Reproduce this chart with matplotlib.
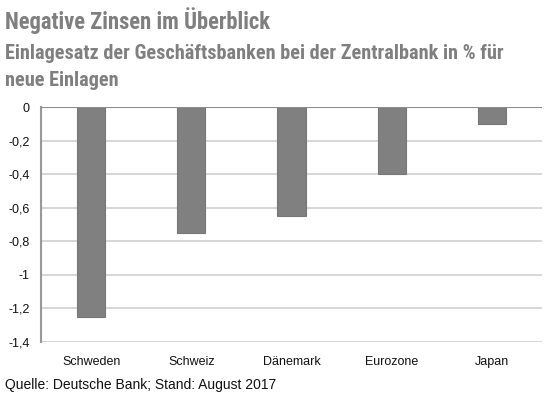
import matplotlib
matplotlib.use("Agg")
import matplotlib.pyplot as plt

laender = ["Schweden", "Schweiz", "Dänemark", "Eurozone", "Japan"]
einlagesatz = [-1.25, -0.75, -0.65, -0.4, -0.1]
y_ticks = [0, -0.2, -0.4, -0.6, -0.8, -1, -1.2, -1.4]
y_labels = ["0", "-0,2", "-0,4", "-0,6", "-0,8", "-1", "-1,2", "-1,4"]

plt.rcParams['font.family'] = ['Liberation Sans', 'DejaVu Sans']

fig = plt.figure(figsize=(5.45, 3.98), dpi=100)
ax = fig.add_axes([41 / 545, 1 - 342 / 398, 501 / 545, 235 / 398])

x = range(len(laender))
ax.bar(x, einlagesatz, width=0.28, color="#808080", edgecolor="#777777", linewidth=0.8, zorder=3)

ax.set_xlim(-0.5, len(laender) - 0.5)
ax.set_ylim(-1.4, 0)
ax.set_yticks(y_ticks)
ax.set_yticklabels(y_labels)
ax.set_xticks(list(x))
ax.set_xticklabels(laender)
ax.tick_params(axis='both', length=0, labelsize=9, colors="#111111")
ax.tick_params(axis='x', pad=10)
ax.tick_params(axis='y', pad=8)

for t in y_ticks[1:]:
	ax.axhline(t, color="#d0d0d0", linewidth=1.2, zorder=1)
ax.axhline(0, color="#8c8c8c", linewidth=1.5, zorder=4)

for s in ["top", "right", "bottom"]:
	ax.spines[s].set_visible(False)
ax.spines["left"].set_color("#999999")
ax.spines["left"].set_linewidth(1.5)

title_font = ['Roboto Condensed', 'Roboto', 'DejaVu Sans']
fig.text(5 / 545, 1 - 29 / 398, "Negative Zinsen im Überblick", family=title_font, va="baseline",
	fontweight="bold", fontstretch="condensed", fontsize=16.3, color="#7f7f7f")
fig.text(5 / 545, 1 - 59 / 398, "Einlagesatz der Geschäftsbanken bei der Zentralbank in % für",
	family=title_font, va="baseline", fontweight="bold", fontstretch="condensed", fontsize=14.6, color="#7f7f7f")
fig.text(5 / 545, 1 - 86 / 398, "neue Einlagen", family=title_font, va="baseline",
	fontweight="bold", fontstretch="condensed", fontsize=14.6, color="#7f7f7f")
fig.text(5 / 545, 1 - 389 / 398, "Quelle: Deutsche Bank; Stand: August 2017", fontsize=10, color="#111111")

fig.savefig("out.png", dpi=100)
